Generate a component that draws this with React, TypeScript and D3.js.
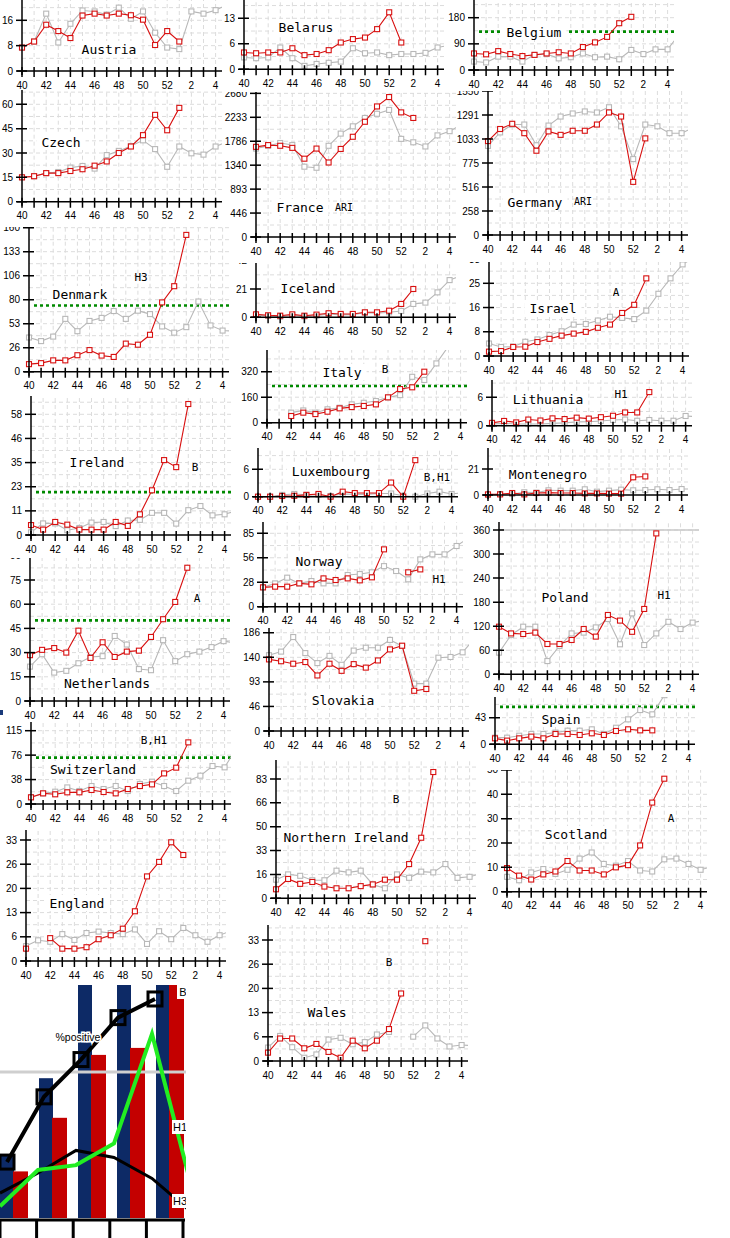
import React from "react";
import * as d3 from "d3";

type Val = number | null;

// week axis: 40..52 then 1..5
const weekLabels = [40, 41, 42, 43, 44, 45, 46, 47, 48, 49, 50, 51, 52, 1, 2, 3, 4, 5];
const labelledWeeks = [0, 2, 4, 6, 8, 10, 12, 14, 16];

// current season (red) weeks 40..1, previous season (grey) weeks 40..5
const austriaCur = [7.4, 9.3, 14.6, 12.6, 10.4, 17.5, 18.1, 17.5, 18.1, 17.6, 16.2, 8.2, 12.6, 9.3];
const austriaPrev = [7.4, 9.3, 18.1, 9.0, 14.9, 19.1, 18.8, 17.8, 20, 16.5, 18.8, 12.1, 7.4, 6.9, 18.8, 18.1, 19.2, 21];
const belarusCur = [4.4, 4.2, 4.4, 4.4, 5.5, 3.7, 4.0, 5.0, 7.0, 7.9, 8.3, 10.5, 14.9, 7.0];
const belarusPrev = [3.1, 2.9, 3.1, 5.7, 2.9, 0.9, 1.4, 1.7, 2.0, 5.5, 4.2, 4.4, 3.7, 4.0, 4.0, 4.3, 5.7, 6.3];
const belgiumCur = [57, 54, 65, 55, 48, 52, 57, 61, 57, 79, 95, 114, 161, 183];
const belgiumPrev = [29, 26, 46, 46, 29, 52, 55, 40, 44, 57, 44, 46, 37, 69, 55, 71, 71, 125];
const czechCur = [15, 15.7, 17.6, 17.6, 18.9, 20, 22.2, 24.8, 30, 34, 41, 53.5, 44, 57.8];
const czechPrev = [15, 15.7, 17.6, 18.3, 21, 22, 20.4, 28.7, 31.3, 34.3, 37.8, 32.4, 21.5, 34, 29.8, 29, 34, 37];
const franceCur = [1682, 1715, 1702, 1663, 1461, 1650, 1390, 1643, 1870, 2150, 2436, 2611, 2325, 2221];
const francePrev = [1650, 1700, 1754, 1715, 1312, 1292, 1702, 1929, 2065, 2221, 2299, 2371, 1831, 1767, 1689, 1896, 1974, 2100];
const germanyCur = [1011, 1141, 1197, 1096, 907, 1115, 1078, 1122, 1122, 1189, 1319, 1275, 572, 1040];
const germanyPrev = [959, 1104, 1189, 1189, 966, 1178, 1275, 1308, 1330, 1319, 1375, 1170, 817, 1189, 1170, 1096, 1096, 1160];
const denmarkCur = [8.4, 9.5, 12.6, 12.6, 18.3, 24, 17.9, 16.4, 31.2, 30, 41, 77, 95, 152];
const denmarkPrev = [38, 34, 39, 58.7, 45, 56.4, 59.8, 67.4, 58.7, 67.8, 64, 50.3, 43.4, 49.5, 78, 51.4, 45.7, 45];
const icelandCur = [2.2, 1.5, 1.2, 2.2, 1.2, 2, 3, 2.5, 2.5, 3.7, 3.7, 4.9, 9.9, 21];
const icelandPrev = [1.7, 1, 0.5, 1.5, 0.7, 1.2, 2.5, 1.7, 2, 3.5, 3, 3.7, 4.7, 9.9, 10.9, 18.5, 27.6, 31];
const israelCur = [1.5, 1.7, 3.1, 3.2, 4.8, 5.9, 7, 7.7, 8.3, 9.7, 10.8, 14.8, 17.6, 26.7];
const israelPrev = [4.3, 3.1, 3.2, 4.9, 5.7, 7.2, 8.5, 10.8, 11, 12.2, 13.5, 13.1, 12.7, 15.6, 21.4, 26.7, 31.5, 34];
const italyCur: Val[] = [null, null, 42, 63, 54, 69, 90, 98, 105, 115, 159, 211, 222, 320];
const italyPrev: Val[] = [null, null, 63, 77, 63, 84, 94, 115, 125, 136, 159, 173, 288, 268, 372, 480, null, null];
const lithuaniaCur = [0.6, 1.0, 0.7, 1.3, 1.1, 1.55, 1.4, 1.7, 1.5, 1.8, 2.1, 2.8, 2.8, 7.1];
const lithuaniaPrev = [0.35, 0.5, 0.35, 0.35, 0.35, 0.5, 0.6, 0.8, 0.85, 1, 1.2, 1.3, 1.05, 1.2, 1.05, 1.05, 2.05, 1.9];
const irelandCur = [4.8, 2.6, 6.3, 5, 2.6, 2.6, 2.6, 6.3, 4.4, 10, 21.6, 36.2, 32.8, 63.3];
const irelandPrev = [1.3, 5.6, 5.6, 2.3, 3.4, 6, 6.3, 4.3, 7, 7.3, 10.7, 10.7, 5.5, 12, 14, 9.5, 10, 11.8];
const luxembourgCur = [0, 0, 0.15, 0.2, 0.4, 0.6, 0, 1.1, 0.8, 0.8, 0.8, 3.1, 0, 8];
const luxembourgPrev = [0, 0, 0.4, 0.6, 0.4, 0.4, 0.15, 0.6, 0.5, 0.5, 0.7, 0.7, 0.2, 0, 0.7, 1.1, 0.6, 0.9];
const montenegroCur = [0.5, 0.5, 1.6, 0.5, 1.6, 1.9, 1.6, 1.6, 1.3, 1.3, 1.1, 1.1, 14.3, 15];
const montenegroPrev = [0, 0.8, 0.8, 2.2, 1.9, 3.8, 3.5, 3.5, 4.6, 2.7, 3.5, 4.3, 3.8, 4, 4.6, 4, 4.8, 4.8];
const norwayCur: Val[] = [22.4, 23.2, 23.2, 27, 25.9, 32.8, 30.9, 32.8, 30.5, 34, 66.4, null, 39.8, 43.2];
const norwayPrev = [22.4, 27, 33.6, 27, 29.7, 27, 27, 36.7, 37.8, 39.8, 47, 41.3, 31.7, 54.8, 60.6, 60.6, 70.3, 80];
const polandCur = [118.8, 102, 100.5, 104, 75.6, 75.6, 85.6, 113, 94, 148, 134, 106, 163, 351.5];
const polandPrev = [54, 98, 118.8, 118.8, 33, 70.6, 102, 104, 117, 138, 74.8, 152, 73, 102, 131, 113, 129, 135];
const netherlandsCur = [28.4, 31.7, 32.8, 30, 43.6, 26.7, 36.4, 27.3, 30.6, 31.2, 39.7, 50.7, 61.4, 82.6];
const netherlandsPrev = [21.3, 29, 17.6, 18.7, 23.4, 27.3, 27.8, 40.3, 35, 19.8, 19.1, 37.7, 24.7, 29, 30.6, 33.4, 37.1, 36];
const slovakiaCur = [136, 132.5, 127.8, 131, 105.5, 127.8, 114.3, 127, 120.4, 134, 155, 162, 76.4, 79.8];
const slovakiaPrev = [144, 150.8, 178.5, 148, 129, 142.7, 125.8, 152.8, 158.2, 158.2, 173, 161.6, 90, 90, 139.3, 140.6, 149.4, 176.5];
const spainCur = [9.7, 6, 9.7, 12.5, 9.7, 16.8, 16.8, 15.2, 17.9, 15.2, 21.7, 24.4, 22.7, 22.7];
const spainPrev: Val[] = [10.8, 10.8, 14, 16.8, 16.8, 19, 22.2, 22.2, 24.4, 16.8, 27, 40.6, 55.8, 48.8, 80, null, null, null];
const switzerlandCur = [10.5, 16.7, 15.2, 18.3, 18.3, 22, 18.8, 16.7, 23.5, 28.2, 30.8, 48, 57, 96.7];
const switzerlandPrev = [10.5, 16.7, 19.3, 26, 20.4, 28.2, 23.5, 28.2, 20.4, 31.4, 35, 28.2, 20.4, 36.6, 44.4, 59.6, 57.5, 88];
const nIrelandCur = [6.3, 13.5, 10.1, 11.4, 8.2, 7, 7, 8.5, 9.7, 13, 13, 23.9, 42.3, 88.2];
const nIrelandPrev = [13, 16.7, 15.7, 12.6, 12.6, 19.3, 18.1, 19.3, 9.7, 7, 16.7, 14.3, 18.6, 18.1, 23.9, 14.3, 15, 17.4];
const scotlandCur = [9.7, 6.6, 5, 7.1, 8.3, 12.6, 8.7, 8.7, 7.1, 10, 10.9, 19, 36.6, 46.4];
const scotlandPrev = [6.1, 4.7, 7.9, 9.3, 7.3, 9, 13.6, 16.1, 11.4, 10.7, 12.6, 8.7, 8.3, 13.3, 13.6, 11.4, 9, 10.4];
const englandCur: Val[] = [3.4, null, 6.3, 3.4, 3.4, 3.8, 6, 7.1, 8.9, 13.7, 23.3, 27.3, 32.7, 29.2];
const englandPrev = [4.1, 5.7, 5.3, 7.4, 5.8, 7.7, 8.1, 7.7, 7.4, 8.7, 4.7, 8.2, 6, 9.1, 7.1, 5.3, 7.1, 8.4];
const walesCur: Val[] = [2.3, 6.2, 6.2, 3.5, 4.7, 2.5, 0.9, 5.6, 3.5, 5.6, 8.8, 18.6, null, 33];
const walesPrev: Val[] = [3.7, 6.9, 3.8, 0.9, 1.8, 5.9, 6.4, 4.6, 5.2, 7.3, 8, null, 6.7, 9.8, 6.2, 4, 4.4, 4.2];

// the small combined chart in the bottom-left corner
const miniNavy = [27, 60, 100, 100, 100];
const miniRed = [20, 43, 70, 73, 100];
const miniPositive = [24, 52, 68, 86, 94];
const miniH1 = [5, 20.6, 22.7, 32, 79, 16];
const miniH3 = [10.7, 19.3, 29, 26, 17, 3];
const miniRef = 62.7;

interface Panel {
    name: string;
    cur: Val[];
    prev: Val[];
    step: number;      // y tick step
    ticks: number;     // number of ticks above 0
    refVal: number;    // value of the reference tick
    threshold?: number;
    sub?: string;
    // layout
    ax: number; y0: number; refY: number; top: number;
    nx: number; ny: number; sx?: number; sy?: number; subSmall?: boolean;
}

const panels: Panel[] = [
    { name: "Austria", cur: austriaCur, prev: austriaPrev, step: 8, ticks: 2, refVal: 16, ax: 22, y0: 71, refY: 20.3, top: 0, nx: 109, ny: 49 },
    { name: "Belarus", cur: belarusCur, prev: belarusPrev, step: 20 / 3, ticks: 2, refVal: 40 / 3, ax: 244, y0: 69.3, refY: 18.3, top: 0, nx: 306, ny: 27 },
    { name: "Belgium", cur: belgiumCur, prev: belgiumPrev, step: 90, ticks: 2, refVal: 180, threshold: 132, ax: 474, y0: 70, refY: 17.7, top: 0, nx: 534, ny: 32 },
    { name: "Czech", cur: czechCur, prev: czechPrev, step: 15, ticks: 5, refVal: 60, ax: 22, y0: 201.7, refY: 104.3, top: 90, nx: 61, ny: 142 },
    { name: "France", sub: "ARI", subSmall: true, cur: franceCur, prev: francePrev, step: 1340 / 3, ticks: 6, refVal: 6700 / 3, ax: 256, y0: 237, refY: 117.3, top: 92, nx: 300, ny: 207, sx: 344, sy: 207 },
    { name: "Germany", sub: "ARI", subSmall: true, cur: germanyCur, prev: germanyPrev, step: 775 / 3, ticks: 6, refVal: 3875 / 3, ax: 488, y0: 235, refY: 115, top: 91, nx: 535, ny: 202, sx: 583, sy: 201 },
    { name: "Denmark", sub: "H3", cur: denmarkCur, prev: denmarkPrev, step: 80 / 3, ticks: 6, refVal: 400 / 3, threshold: 73.5, ax: 29, y0: 371.7, refY: 251.7, top: 227, nx: 80, ny: 294, sx: 141, sy: 277 },
    { name: "Iceland", cur: icelandCur, prev: icelandPrev, step: 21, ticks: 2, refVal: 21, ax: 256, y0: 317.3, refY: 289, top: 263, nx: 308, ny: 288 },
    { name: "Israel", sub: "A", cur: israelCur, prev: israelPrev, step: 25 / 3, ticks: 4, refVal: 25, ax: 489, y0: 356, refY: 283.3, top: 262, nx: 553, ny: 308, sx: 616, sy: 292 },
    { name: "Italy", sub: "B", cur: italyCur, prev: italyPrev, step: 160, ticks: 3, refVal: 320, threshold: 230, ax: 267, y0: 422.7, refY: 371.7, top: 350, nx: 342, ny: 372, sx: 385, sy: 369 },
    { name: "Lithuania", sub: "H1", cur: lithuaniaCur, prev: lithuaniaPrev, step: 6, ticks: 2, refVal: 6, ax: 492, y0: 425.7, refY: 397.3, top: 380, nx: 548, ny: 399, sx: 621, sy: 394 },
    { name: "Ireland", sub: "B", cur: irelandCur, prev: irelandPrev, step: 35 / 3, ticks: 6, refVal: 175 / 3, threshold: 20.7, ax: 31, y0: 535, refY: 414.3, top: 396, nx: 97, ny: 462, sx: 195, sy: 467 },
    { name: "Luxembourg", sub: "B,H1", cur: luxembourgCur, prev: luxembourgPrev, step: 6, ticks: 2, refVal: 6, ax: 258, y0: 496.7, refY: 469.3, top: 448, nx: 331, ny: 471, sx: 437, sy: 477 },
    { name: "Montenegro", cur: montenegroCur, prev: montenegroPrev, step: 21, ticks: 2, refVal: 21, ax: 488, y0: 495, refY: 469, top: 448, nx: 548, ny: 474 },
    { name: "Norway", sub: "H1", cur: norwayCur, prev: norwayPrev, step: 85 / 3, ticks: 4, refVal: 85, ax: 263, y0: 606.7, refY: 533.3, top: 522, nx: 319, ny: 561, sx: 439, sy: 579 },
    { name: "Poland", sub: "H1", cur: polandCur, prev: polandPrev, step: 60, ticks: 6, refVal: 360, ax: 499, y0: 674.3, refY: 530, top: 522, nx: 565, ny: 597, sx: 664, sy: 595 },
    { name: "Netherlands", sub: "A", cur: netherlandsCur, prev: netherlandsPrev, step: 15, ticks: 6, refVal: 75, threshold: 50, ax: 30, y0: 701, refY: 580, top: 558, nx: 107, ny: 683, sx: 197, sy: 598 },
    { name: "Slovakia", cur: slovakiaCur, prev: slovakiaPrev, step: 140 / 3, ticks: 4, refVal: 140, ax: 269, y0: 731, refY: 657.3, top: 628, nx: 343, ny: 700 },
    { name: "Spain", cur: spainCur, prev: spainPrev, step: 130 / 3, ticks: 2, refVal: 130 / 3, threshold: 61, ax: 495, y0: 744.3, refY: 717.7, top: 697, nx: 561, ny: 719 },
    { name: "Switzerland", sub: "B,H1", cur: switzerlandCur, prev: switzerlandPrev, step: 115 / 3, ticks: 3, refVal: 115, threshold: 72.7, ax: 31, y0: 804, refY: 730.7, top: 722, nx: 93, ny: 769, sx: 154, sy: 740 },
    { name: "Northern Ireland", sub: "B", cur: nIrelandCur, prev: nIrelandPrev, step: 50 / 3, ticks: 6, refVal: 250 / 3, ax: 276, y0: 898.3, refY: 779, top: 760, nx: 346, ny: 837, sx: 396, sy: 799 },
    { name: "Scotland", sub: "A", cur: scotlandCur, prev: scotlandPrev, step: 10, ticks: 5, refVal: 40, ax: 507, y0: 891.7, refY: 794.3, top: 770, nx: 576, ny: 834, sx: 671, sy: 818 },
    { name: "England", cur: englandCur, prev: englandPrev, step: 20 / 3, ticks: 5, refVal: 100 / 3, ax: 26, y0: 961, refY: 840, top: 830, nx: 77, ny: 903 },
    { name: "Wales", sub: "B", cur: walesCur, prev: walesPrev, step: 20 / 3, ticks: 5, refVal: 100 / 3, ax: 268, y0: 1061, refY: 940, top: 925, nx: 327, ny: 1012, sx: 389, sy: 962 },
];

const WEEK_PX = 12.1;
const RED = "#d81010";
const GREY = "#b8b8b8";
const TICK_FONT = "'Liberation Sans', Arial, sans-serif";
const MONO = "'DejaVu Sans Mono', monospace";

function Series({ data, x, y, color }: { data: Val[]; x: d3.ScaleLinear<number, number>; y: d3.ScaleLinear<number, number>; color: string }) {
    const line = d3.line<Val>()
        .defined(d => d !== null)
        .x((_, i) => x(i))
        .y(d => y(d as number));
    return (
        <g>
            <path d={line(data) || ""} fill="none" stroke={color} strokeWidth={1.1} />
            {data.map((d, i) => d === null ? null : (
                <rect key={i} x={x(i) - 2.5} y={y(d) - 2.5} width={5} height={5}
                    fill="#fff" stroke={color} strokeWidth={1.1} />
            ))}
        </g>
    );
}

function ChartPanel({ p, idx }: { p: Panel; idx: number }) {
    const x = d3.scaleLinear().domain([0, 16]).range([p.ax, p.ax + 16 * WEEK_PX]);
    const y = d3.scaleLinear().domain([0, p.refVal]).range([p.y0, p.refY]);
    const right = p.ax + 200;
    const yTicks = d3.range(1, p.ticks + 1).map(k => k * p.step);
    const gridVals = d3.range(1, 2 * p.ticks + 5).map(k => k * p.step / 2).filter(v => y(v) > p.top);
    const nameW = p.name.length * 7.83 + 10;

    return (
        <g>
            <defs>
                <clipPath id={`pc${idx}`}>
                    <rect x={p.ax - 40} y={p.top} width={250} height={p.y0 + 24 - p.top} />
                </clipPath>
                <clipPath id={`dc${idx}`}>
                    <rect x={p.ax - 4} y={p.top} width={204} height={p.y0 + 4 - p.top} />
                </clipPath>
            </defs>
            <g clipPath={`url(#pc${idx})`}>
                {/* grid */}
                <g stroke="#dcdcdc" strokeWidth={1} strokeDasharray="4 3">
                    {d3.range(1, 17).map(i => (
                        <line key={"v" + i} x1={x(i)} x2={x(i)} y1={p.y0} y2={p.top} />
                    ))}
                    {gridVals.map(v => (
                        <line key={"h" + v} x1={p.ax} x2={right} y1={y(v)} y2={y(v)} />
                    ))}
                </g>
                {p.name === "Poland" && (
                    <line x1={p.ax} x2={right} y1={y(360)} y2={y(360)} stroke="#c8c8c8" strokeWidth={1.5} />
                )}

                {p.threshold !== undefined && (
                    <line x1={p.ax + 5} x2={right} y1={y(p.threshold)} y2={y(p.threshold)}
                        stroke="#008a00" strokeWidth={2.6} strokeDasharray="3 3" />
                )}

                {/* name labels sit on a white box */}
                <rect x={p.nx - nameW / 2} y={p.ny - 8} width={nameW} height={16} fill="#fff" />
                <text x={p.nx} y={p.ny} textAnchor="middle" dominantBaseline="central"
                    fontFamily={MONO} fontSize={13}>{p.name}</text>
                {p.sub && (
                    <text x={p.sx} y={p.sy} textAnchor="middle" dominantBaseline="central"
                        fontFamily={MONO} fontSize={p.subSmall ? 10 : 11}>{p.sub}</text>
                )}

                <g clipPath={`url(#dc${idx})`}>
                    <Series data={p.prev} x={x} y={y} color={GREY} />
                    <Series data={p.cur} x={x} y={y} color={RED} />
                </g>

                {/* x axis */}
                <line x1={p.ax - 5} x2={right} y1={p.y0} y2={p.y0} stroke="#000" strokeWidth={1.5} />
                {d3.range(0, 17).map(i => (
                    <line key={"xt" + i} x1={x(i)} x2={x(i)} y1={p.y0 - 4} y2={p.y0 + 6} stroke="#000" strokeWidth={1.5} />
                ))}
                {labelledWeeks.map(i => (
                    <text key={"xl" + i} x={x(i)} y={p.y0 + 14} textAnchor="middle" dominantBaseline="central"
                        fontFamily={TICK_FONT} fontSize={10}>{weekLabels[i]}</text>
                ))}

                {/* y axis */}
                <line x1={p.ax} x2={p.ax} y1={p.y0 + 4} y2={p.top} stroke="#000" strokeWidth={1.5} />
                {[0, ...yTicks].map(v => (
                    <g key={"yt" + v}>
                        <line x1={p.ax - 6} x2={p.ax + 5} y1={y(v)} y2={y(v)} stroke="#000" strokeWidth={1.5} />
                        <text x={p.ax - 9} y={y(v)} textAnchor="end" dominantBaseline="central"
                            fontFamily={TICK_FONT} fontSize={10}>{Math.floor(v + 1e-6)}</text>
                    </g>
                ))}
            </g>
        </g>
    );
}

function MiniChart() {
    const y = d3.scaleLinear().domain([0, 100]).range([1218, 985]);
    const bx = d3.scaleLinear().domain([0, 4]).range([0, 156]);
    const px = d3.scaleLinear().domain([0, 4]).range([7, 155]);
    const lx = d3.scaleLinear().domain([0, 5]).range([0, 190]);
    const axisX = d3.scaleLinear().domain([0, 5]).range([0, 183]);
    const posLine = d3.line<number>().x((_, i) => px(i)).y(d => y(d));
    const subLine = d3.line<number>().x((_, i) => lx(i)).y(d => y(d));

    const tag = (t: string, cx: number, cy: number, w: number) => (
        <g>
            <rect x={cx - w / 2} y={cy - 7} width={w} height={14} fill="#fff" />
            <text x={cx} y={cy} textAnchor="middle" dominantBaseline="central"
                fontFamily={TICK_FONT} fontSize={11}>{t}</text>
        </g>
    );

    return (
        <g>
            <defs>
                <clipPath id="mini">
                    <rect x={0} y={985} width={186} height={253} />
                </clipPath>
            </defs>
            <g clipPath="url(#mini)">
                {miniNavy.map((v, i) => (
                    <rect key={"n" + i} x={bx(i)} y={y(v)} width={14} height={y(0) - y(v)} fill="#0d2a66" />
                ))}
                {miniRed.map((v, i) => (
                    <rect key={"r" + i} x={bx(i) + 13} y={y(v)} width={15} height={y(0) - y(v)} fill="#c40000" />
                ))}
                <line x1={0} x2={186} y1={y(miniRef)} y2={y(miniRef)} stroke="#cfcfcf" strokeWidth={3} />
                <path d={subLine(miniH3) || ""} fill="none" stroke="#000" strokeWidth={3} />
                <path d={subLine(miniH1) || ""} fill="none" stroke="#22ee22" strokeWidth={4} />
                <path d={posLine(miniPositive) || ""} fill="none" stroke="#000" strokeWidth={4} />
                {miniPositive.map((v, i) => (
                    <rect key={"p" + i} x={px(i) - 7} y={y(v) - 7} width={14} height={14}
                        fill="none" stroke="#000" strokeWidth={3} />
                ))}
                <text x={78} y={1037} textAnchor="middle" dominantBaseline="central" fontFamily={TICK_FONT}
                    fontSize={10.5} stroke="#fff" strokeWidth={3} paintOrder="stroke">%positive</text>
                {tag("B", 183, 992, 12)}
                {tag("H1", 180, 1127, 16)}
                {tag("H3", 180, 1201, 16)}
                <line x1={0} x2={185} y1={1220} y2={1220} stroke="#000" strokeWidth={3} />
                {d3.range(0, 6).map(i => (
                    <line key={"t" + i} x1={axisX(i)} x2={axisX(i)} y1={1220} y2={1238} stroke="#000" strokeWidth={3} />
                ))}
            </g>
        </g>
    );
}

export default function App() {
    return (
        <svg width={730} height={1238} viewBox="0 0 730 1238"
            style={{ position: "absolute", left: 0, top: 0, background: "#fff" }}>
            <rect x={0} y={0} width={730} height={1238} fill="#fff" />
            {panels.map((p, i) => <ChartPanel key={p.name} p={p} idx={i} />)}
            <rect x={0} y={710} width={3} height={5} fill="#1a3a7a" />
            <MiniChart />
        </svg>
    );
}
